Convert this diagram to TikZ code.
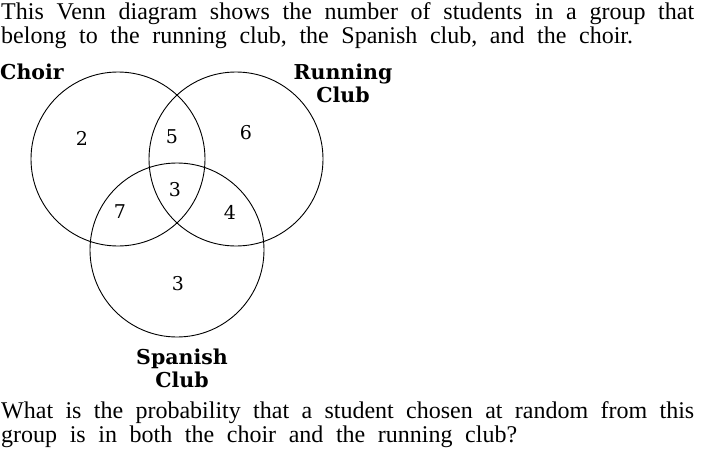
\documentclass[tikz,border=0pt]{standalone}
\usepackage{fontspec}
\newfontfamily\bodyfont[WordSpace={2.1,2.1,2.1}]{Liberation Serif}
\newfontfamily\vennfont{DejaVu Serif}
\usetikzlibrary{positioning}

\begin{document}
\begin{tikzpicture}[x=1pt,y=-1pt,
    set/.style={draw,circle,line width=0.9pt,minimum size=174pt,inner sep=0pt},
    count/.style={font=\vennfont\fontsize{19}{19}\selectfont,inner sep=0pt},
    setname/.style={font=\vennfont\fontsize{20.5}{22.5}\selectfont\bfseries,align=center,inner sep=0pt},
    question/.style={font=\bodyfont\fontsize{24}{24}\selectfont,text width=693pt,align=justify,inner sep=0pt}]
\useasboundingbox (0,0) rectangle (703,455);

% Question text
\node[question,anchor=north west] (intro) at (1,2)
  {This Venn diagram shows the number of students in a group that\linebreak
   belong to the running club, the Spanish club, and the choir.};
\node[question,anchor=north west] (ask) at (1,401)
  {What is the probability that a student chosen at random from this\linebreak
   group is in both the choir and the running club?};

% The three sets
\node[set] (choir) at (118,159) {};
\node[set] (run) at (236,159) {};
\node[set] (spanish) at (177,250) {};

% Set names
\node[setname,anchor=north west] (choirname) at (0,64) {Choir};
\node[setname,anchor=north] (runname) at (343,64) {Running\\Club};
\node[setname,anchor=north] (spanishname) at (182,349) {Spanish\\Club};

% Counts in each region
\node[count] (onlychoir) at (82,138) {2};
\node[count] (choirrun) at (172,137) {5};
\node[count] (onlyrun) at (246,133) {6};
\node[count] (all) at (175,190) {3};
\node[count] (choirspan) at (120,212) {7};
\node[count] (runspan) at (230,212) {4};
\node[count] (onlyspan) at (178,284) {3};
\end{tikzpicture}
\end{document}
